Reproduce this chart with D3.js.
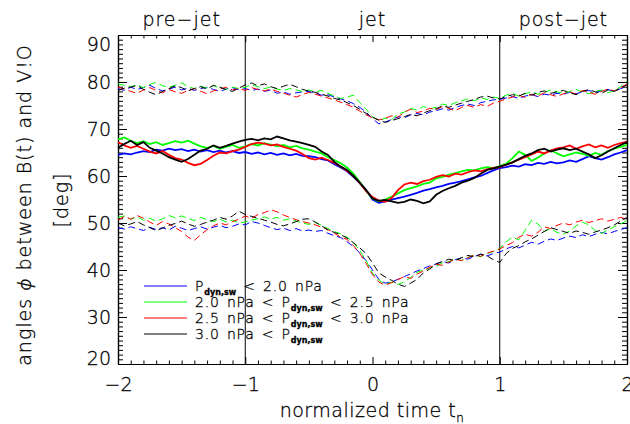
<!DOCTYPE html>
<html>
<head>
<meta charset="utf-8">
<script src="https://cdn.jsdelivr.net/npm/d3@7"></script>
<style>
  body { margin: 0; background: #fff; }
  text { font-family: "DejaVu Sans", "Liberation Sans", sans-serif; font-weight: 200; fill: #000;
         stroke: #000; stroke-width: 0.3px; }
</style>
</head>
<body>
<div id="chart"></div>
<script>
// Chart set up
var svgWidth = 630;
var svgHeight = 424;

var plot = { left: 118, right: 627, top: 35, bottom: 364 };

// sampling grid of the normalized time (step 0.05)
var tSamples = d3.range(81).map(i => -2 + i * 0.05);

// solid curves (middle group)
var midBlue = [64.5, 64.8, 64.6, 65.0, 65.3, 65.1, 65.6, 65.4, 65.8, 65.5,
  65.7, 65.3, 65.6, 65.2, 65.5, 65.1, 65.4, 65.0, 65.3, 64.9,
  65.1, 64.7, 65.0, 64.6, 64.9, 64.5, 64.8, 64.4, 64.7, 64.3,
  64.2, 64.0, 63.6, 63.3, 62.5, 61.8, 61.0, 59.8, 58.5, 57.0,
  55.0, 54.3, 54.6, 55.0, 55.3, 55.6, 56.0, 56.4, 56.9, 57.2,
  57.6, 57.9, 58.3, 58.6, 58.9, 59.3, 59.7, 60.0, 60.6, 61.2,
  61.7, 61.9, 62.2, 62.0, 62.5, 62.3, 62.8, 62.6, 63.0, 62.7,
  62.9, 63.3, 63.0, 63.6, 64.2, 63.8, 63.5, 64.0, 64.6, 65.0, 65.5];
var midGreen = [67.8, 68.2, 67.5, 67.0, 67.4, 66.8, 67.2, 66.6, 67.0, 67.4,
  67.1, 67.5, 66.9, 66.3, 66.0, 66.4, 65.8, 66.2, 66.6, 66.0,
  66.3, 66.8, 66.5, 67.0, 66.7, 66.3, 66.6, 66.1, 66.4, 65.9,
  65.6, 65.2, 64.8, 64.0, 63.4, 62.7, 61.8, 60.5, 58.7, 56.8,
  55.2, 54.6, 55.0, 55.6, 56.3, 57.0, 57.4, 57.8, 58.3, 58.6,
  59.5, 59.8, 60.3, 60.6, 61.0, 61.3, 61.2, 61.6, 61.9, 61.7,
  62.1, 62.6, 63.8, 65.2, 64.5, 63.2, 63.9, 64.8, 65.5, 64.8,
  64.2, 64.6, 65.0, 64.7, 64.3, 64.9, 64.5, 65.3, 65.8, 66.2, 66.6];
var midRed = [67.2, 66.5, 66.0, 66.4, 65.8, 65.2, 64.8, 65.3, 64.5, 63.8,
  63.5, 62.8, 62.3, 62.6, 63.4, 64.3, 65.0, 64.8, 65.3, 65.6,
  66.2, 66.8, 67.1, 66.9, 66.5, 66.7, 66.2, 65.8, 65.4, 64.7,
  63.8, 63.5, 63.9, 63.4, 62.8, 62.0, 61.1, 60.0, 58.5, 56.8,
  55.5, 54.8, 54.5, 55.3, 57.0, 58.2, 58.6, 58.3, 58.9, 59.2,
  59.8, 60.2, 59.9, 60.5, 60.3, 60.8, 61.2, 61.0, 61.4, 61.7,
  61.9, 62.4, 62.9, 63.5, 64.0, 64.6, 65.2, 64.8, 65.4, 65.9,
  66.1, 66.5, 65.8, 66.3, 66.7, 66.1, 66.5, 66.0, 66.6, 67.0, 67.3];
var midBlack = [66.0, 66.8, 67.5, 66.6, 67.2, 66.0, 65.4, 64.8, 64.0, 63.5,
  63.0, 63.6, 64.5, 65.4, 65.8, 66.5, 66.0, 66.4, 66.9, 67.3,
  67.7, 67.9, 67.6, 68.0, 67.8, 68.4, 68.0, 67.6, 67.3, 67.0,
  66.6, 66.2, 65.2, 64.5, 63.0, 62.0, 61.3, 60.0, 58.6, 57.0,
  55.2, 54.7, 54.9, 54.6, 54.3, 54.5, 55.0, 54.7, 54.2, 54.6,
  56.0, 56.8, 57.4, 57.9, 58.6, 59.0, 59.6, 60.5, 61.3, 61.6,
  62.0, 62.4, 62.9, 63.6, 64.3, 64.8, 65.5, 65.8, 65.2, 65.6,
  65.9, 65.5, 65.8, 65.2, 64.6, 63.8, 64.4, 65.2, 65.9, 66.6, 67.2];

// dashed curves (upper group)
var topBlue = [78.6, 78.2, 78.9, 78.4, 78.8, 79.3, 78.6, 78.1, 78.5, 78.9,
  78.3, 78.7, 78.2, 78.6, 78.9, 78.4, 78.0, 78.5, 78.8, 78.3,
  78.6, 78.2, 78.5, 78.0, 78.3, 77.6, 77.9, 77.4, 77.7, 77.9,
  78.0, 77.6, 77.2, 77.3, 76.8, 76.4, 76.0, 75.4, 74.6, 73.6,
  72.2, 71.1, 71.5, 72.0, 72.6, 72.4, 73.0, 73.3, 73.0, 73.6,
  73.9, 74.3, 74.0, 74.6, 75.0, 75.3, 75.0, 75.6, 75.9, 76.2,
  76.3, 76.6, 76.9, 76.5, 77.0, 77.3, 76.9, 77.4, 77.2, 77.6,
  77.4, 77.8, 77.5, 77.9, 78.2, 77.8, 78.1, 78.4, 78.0, 78.6, 79.0];
var topGreen = [79.6, 79.3, 79.0, 79.4, 78.8, 79.5, 79.9, 79.2, 78.9, 79.3,
  79.8, 79.0, 78.6, 79.1, 78.7, 79.2, 78.8, 78.4, 78.9, 78.6,
  78.9, 79.4, 79.0, 78.6, 78.9, 78.5, 78.2, 78.6, 78.3, 78.0,
  78.3, 77.9, 78.2, 77.6, 77.0, 76.5, 76.8, 77.2, 75.6, 74.2,
  72.6, 71.8, 72.3, 72.0, 73.2, 73.6, 74.4, 74.0, 74.8, 74.3,
  74.6, 75.3, 75.0, 75.6, 76.0, 76.4, 76.0, 76.6, 76.3, 76.8,
  76.5, 77.2, 77.6, 77.0, 77.5, 77.9, 77.4, 77.8, 78.3, 77.9,
  77.6, 78.0, 78.4, 77.9, 77.5, 78.0, 78.3, 77.7, 78.2, 79.0, 80.2];
var topRed = [78.9, 78.5, 78.0, 77.6, 78.3, 78.8, 78.2, 77.7, 78.4, 77.9,
  77.6, 78.2, 78.6, 78.0, 77.5, 78.1, 78.5, 78.9, 78.3, 78.6,
  78.2, 78.8, 78.4, 78.1, 78.5, 78.0, 77.6, 77.2, 76.8, 77.3,
  77.8, 77.4, 77.0, 76.6, 76.2, 75.7, 75.2, 74.6, 73.8, 73.0,
  72.4, 71.9, 72.3, 72.8, 72.5, 73.6, 74.2, 73.5, 73.8, 74.4,
  74.1, 74.8, 74.4, 73.9, 74.6, 75.0, 74.6, 75.2, 74.8, 75.5,
  75.9, 76.4, 76.8, 77.2, 76.7, 77.4, 77.0, 77.7, 77.3, 76.9,
  77.5, 77.9, 77.4, 78.2, 77.8, 77.4, 78.0, 78.5, 78.1, 78.8, 79.6];
var topBlack = [78.2, 78.7, 78.9, 79.3, 78.4, 77.8, 77.3, 78.0, 78.6, 79.2,
  78.8, 78.1, 78.6, 79.0, 78.5, 79.3, 78.9, 78.4, 78.0, 78.7,
  79.4, 79.8, 79.2, 79.6, 79.0, 78.6, 79.1, 79.5, 79.0, 78.4,
  78.1, 77.8, 77.4, 77.0, 76.5, 76.2, 75.6, 75.0, 74.2, 73.3,
  72.5, 71.9, 71.4, 71.8, 72.2, 72.6, 73.1, 72.8, 73.4, 73.9,
  74.3, 74.9, 74.6, 75.1, 75.5, 75.9, 76.3, 76.8, 77.0, 76.6,
  76.4, 76.9, 77.3, 77.0, 77.6, 77.2, 77.8, 78.1, 77.6, 77.9,
  78.2, 77.7, 77.3, 78.0, 78.4, 77.9, 77.6, 78.3, 78.0, 78.7, 79.4];

// dashed curves (lower group)
var botBlue = [49.0, 48.7, 49.2, 48.8, 48.4, 49.1, 48.6, 49.0, 48.5, 49.3,
  48.9, 48.4, 48.8, 49.2, 48.7, 49.1, 49.5, 49.0, 49.3, 49.8,
  49.6, 50.3, 50.0, 49.5, 49.0, 48.6, 48.9, 48.4, 48.8, 48.3,
  48.5, 48.2, 48.4, 47.8, 47.3, 46.9, 46.0, 45.0, 43.6, 42.0,
  40.0, 38.0, 37.2, 37.5, 38.0, 38.6, 39.2, 39.8, 40.3, 40.9,
  41.3, 41.8, 41.5, 42.2, 42.6, 42.3, 42.9, 43.3, 43.0, 43.5,
  43.8, 44.5, 45.0, 44.7, 45.3, 45.9, 45.5, 46.1, 46.6, 46.3,
  46.8, 47.2, 46.9, 47.5, 47.1, 47.6, 48.0, 47.7, 48.2, 48.6, 49.0];
var botGreen = [51.2, 51.5, 50.8, 51.3, 50.6, 51.0, 50.4, 50.9, 51.6, 51.1,
  51.5, 51.0, 50.5, 51.2, 50.7, 50.3, 50.8, 50.2, 50.6, 50.0,
  50.2, 50.6, 50.9, 51.3, 50.8, 51.2, 50.6, 50.9, 50.4, 50.0,
  49.7, 50.1, 49.5, 48.8, 48.2, 47.7, 47.0, 45.8, 44.2, 42.0,
  39.3, 37.8, 37.0, 37.4, 36.9, 37.5, 38.4, 39.5, 40.0, 40.4,
  40.8, 41.5, 41.8, 42.4, 42.0, 42.7, 43.2, 42.8, 43.5, 43.9,
  44.6, 46.0, 47.0, 46.4, 48.5, 50.6, 49.8, 48.2, 48.8, 48.0,
  47.6, 48.3, 49.4, 50.2, 49.6, 48.4, 47.8, 48.5, 49.2, 49.8, 50.5];
var botRed = [50.6, 51.4, 50.8, 51.6, 51.0, 50.2, 49.5, 50.3, 49.8, 49.0,
  48.2, 47.0, 46.3, 47.5, 48.6, 49.4, 50.0, 49.6, 50.3, 50.8,
  51.5, 51.0, 51.8, 52.2, 52.8, 52.4, 51.7, 51.2, 50.7, 50.3,
  50.0, 49.6, 49.1, 48.6, 47.8, 47.0, 46.5, 45.2, 43.5, 41.4,
  39.0, 37.4, 36.8, 37.3, 38.0, 38.6, 38.2, 39.1, 39.8, 40.6,
  41.2, 41.0, 41.7, 42.3, 42.0, 42.6, 43.2, 42.9, 43.6, 44.0,
  44.5, 45.2, 45.8, 47.0, 47.6, 47.2, 48.0, 49.2, 48.8, 49.5,
  50.0, 49.6, 50.2, 50.6, 50.1, 50.5, 50.9, 50.4, 50.8, 51.2, 50.8];
var botBlack = [50.0, 49.4, 49.8, 50.3, 49.6, 49.0, 48.4, 48.9, 49.5, 49.9,
  50.4, 49.8, 49.3, 49.7, 50.2, 50.6, 51.2, 50.8, 51.5, 52.5,
  51.8, 51.4, 51.0, 50.6, 50.2, 49.7, 49.4, 49.8, 50.3, 50.8,
  50.9, 50.2, 49.4, 48.5, 48.0, 47.5, 46.8, 45.8, 44.7, 43.5,
  41.5, 39.4, 38.5, 37.8, 37.0, 36.5, 37.2, 38.0, 39.4, 40.2,
  41.3, 41.8, 42.3, 42.0, 42.6, 43.1, 42.8, 43.4, 43.0, 42.2,
  41.6, 43.5, 44.6, 45.2, 46.0, 46.6, 47.4, 48.2, 49.0, 48.6,
  48.2, 47.8, 48.3, 48.0, 47.6, 48.1, 48.5, 49.0, 49.6, 50.4, 51.2];

var seriesColors = ["#0000ff", "#00ff00", "#ff0000", "#000000"];
var legendText = [
  ["P", "dyn,sw", " < 2.0 nPa"],
  ["2.0 nPa < P", "dyn,sw", " < 2.5 nPa"],
  ["2.5 nPa < P", "dyn,sw", " < 3.0 nPa"],
  ["3.0 nPa < P", "dyn,sw", ""]
];
var phaseLabels = [
  { t: -1.5, label: "pre\u2212jet" },
  { t: 0, label: "jet" },
  { t: 1.5, label: "post\u2212jet" }
];
var phaseBounds = [-1, 1];
var xTicks = [-2, -1, 0, 1, 2];
var yTicks = [20, 30, 40, 50, 60, 70, 80, 90];

var svg = d3.select("#chart")
  .append("svg")
  .attr("width", svgWidth)
  .attr("height", svgHeight);

var xScale = d3.scaleLinear().domain([-2, 2]).range([plot.left, plot.right]);
var yScale = d3.scaleLinear().domain([20, 90]).range([plot.bottom, plot.top]);

var xMinor = d3.range(-20, 21).map(d => d / 10).filter(d => !xTicks.includes(d));
var yMinor = d3.range(20, 91).filter(d => !yTicks.includes(d));

function styleAxis(g) {
  g.select(".domain").attr("stroke", "#000").attr("stroke-width", 1.2);
  g.selectAll(".tick line").attr("stroke", "#000").attr("stroke-width", 1);
  g.selectAll(".tick text")
    .style("font-family", "DejaVu Sans, sans-serif")
    .style("font-weight", "200")
    .style("font-size", "19px")
    .attr("fill", "#000");
}

// bottom axis with labels
svg.append("g")
  .attr("transform", `translate(0, ${plot.bottom})`)
  .call(d3.axisBottom(xScale).tickValues(xTicks).tickSize(-7).tickSizeOuter(0)
    .tickPadding(14).tickFormat(d3.format("d")))
  .call(styleAxis);
svg.append("g")
  .attr("transform", `translate(0, ${plot.bottom})`)
  .call(d3.axisBottom(xScale).tickValues(xMinor).tickSize(-3.5).tickSizeOuter(0).tickFormat(""))
  .call(styleAxis);

// top axis
svg.append("g")
  .attr("transform", `translate(0, ${plot.top})`)
  .call(d3.axisTop(xScale).tickValues(xTicks).tickSize(-7).tickSizeOuter(0).tickFormat(""))
  .call(styleAxis);
svg.append("g")
  .attr("transform", `translate(0, ${plot.top})`)
  .call(d3.axisTop(xScale).tickValues(xMinor).tickSize(-3.5).tickSizeOuter(0).tickFormat(""))
  .call(styleAxis);

// left axis with labels (end labels pulled inside like the original)
svg.append("g")
  .attr("transform", `translate(${plot.left}, 0)`)
  .call(d3.axisLeft(yScale).tickValues(yTicks).tickSize(-9).tickSizeOuter(0).tickPadding(7))
  .call(styleAxis)
  .call(g => g.selectAll(".tick text")
    .attr("dy", d => d === 90 ? "0.8em" : d === 20 ? "0.05em" : "0.32em"));
svg.append("g")
  .attr("transform", `translate(${plot.left}, 0)`)
  .call(d3.axisLeft(yScale).tickValues(yMinor).tickSize(-5).tickSizeOuter(0).tickFormat(""))
  .call(styleAxis);

// right axis
svg.append("g")
  .attr("transform", `translate(${plot.right}, 0)`)
  .call(d3.axisRight(yScale).tickValues(yTicks).tickSize(-9).tickSizeOuter(0).tickFormat(""))
  .call(styleAxis);
svg.append("g")
  .attr("transform", `translate(${plot.right}, 0)`)
  .call(d3.axisRight(yScale).tickValues(yMinor).tickSize(-5).tickSizeOuter(0).tickFormat(""))
  .call(styleAxis);

// phase boundaries
svg.selectAll(".bound")
  .data(phaseBounds)
  .enter()
  .append("line")
  .attr("x1", d => xScale(d)).attr("x2", d => xScale(d))
  .attr("y1", plot.top).attr("y2", plot.bottom)
  .attr("stroke", "#000").attr("stroke-width", 1);

// curves
var line = d3.line()
  .x((d, i) => xScale(tSamples[i]))
  .y(d => yScale(d));

var groups = [
  { data: [topBlue, topGreen, topRed, topBlack], dash: "7,4", width: 1 },
  { data: [botBlue, botGreen, botRed, botBlack], dash: "7,4", width: 1 },
  { data: [midBlue, midGreen, midRed, midBlack], dash: null, width: 1.8 }
];

groups.forEach(function(grp) {
  grp.data.forEach(function(series, k) {
    svg.append("path")
      .datum(series)
      .attr("d", line)
      .attr("fill", "none")
      .attr("stroke", seriesColors[k])
      .attr("stroke-width", grp.width)
      .attr("stroke-dasharray", grp.dash);
  });
});

// phase labels on top
svg.selectAll(".phase")
  .data(phaseLabels)
  .enter()
  .append("text")
  .attr("x", d => xScale(d.t))
  .attr("y", 26)
  .attr("text-anchor", "middle")
  .style("font-size", "19px")
  .style("letter-spacing", "1px")
  .text(d => d.label);

// x axis title
var xTitle = svg.append("text")
  .attr("x", 372)
  .attr("y", 417)
  .attr("text-anchor", "middle")
  .style("font-size", "19px")
  .style("letter-spacing", "0.5px");
xTitle.append("tspan").text("normalized time t");
xTitle.append("tspan").attr("dy", 5).style("font-size", "12px").text("n");

// y axis title
svg.append("text")
  .attr("transform", "translate(31, 205) rotate(-90)")
  .attr("text-anchor", "middle")
  .style("font-size", "19px")
  .style("letter-spacing", "1px")
  .html('angles <tspan style="font-style:italic;font-family:Noto Sans;font-weight:300">\u03d5</tspan> between B(t) and V!O');

svg.append("text")
  .attr("transform", "translate(68, 200) rotate(-90)")
  .attr("text-anchor", "middle")
  .style("font-size", "19px")
  .style("letter-spacing", "1px")
  .text("[deg]");

// legend
var legendRows = [286, 302, 318, 334];
legendText.forEach(function(parts, k) {
  svg.append("line")
    .attr("x1", 144).attr("x2", 187)
    .attr("y1", legendRows[k]).attr("y2", legendRows[k])
    .attr("stroke", seriesColors[k]).attr("stroke-width", 1.2);
  var t = svg.append("text")
    .attr("x", 195)
    .attr("y", legendRows[k] + 5)
    .style("font-size", "14px")
    .style("letter-spacing", "0.8px")
    .style("word-spacing", "2px")
    .style("white-space", "pre");
  t.append("tspan").text(parts[0]);
  t.append("tspan").attr("dy", 4).style("font-size", "8px").style("font-weight", "bold")
    .style("letter-spacing", "0px").text(parts[1]);
  if (parts[2]) t.append("tspan").attr("dy", -4).text(parts[2]);
});
</script>
</body>
</html>
